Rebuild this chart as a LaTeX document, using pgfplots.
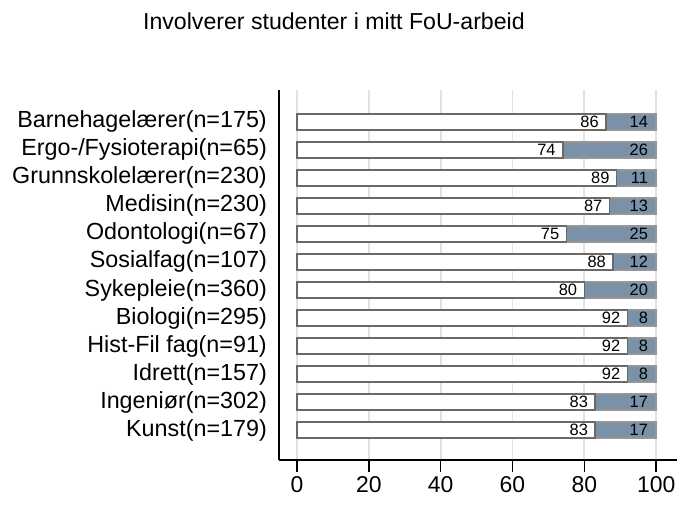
\documentclass[border=0pt]{standalone}
\usepackage{fontspec}
\setmainfont{Liberation Sans}
\usepackage{pgfplots}
\pgfplotsset{compat=1.18}
\definecolor{barblue}{RGB}{122,145,168}
\definecolor{edgegray}{RGB}{105,105,105}
\definecolor{edgelight}{RGB}{150,150,150}
\definecolor{gridgray}{RGB}{225,225,225}
\pgfplotsset{
  commonframe/.style={
    at={(279bp,45bp)}, anchor=south west,
    scale only axis, width=398bp, height=370bp,
    xmin=-5, xmax=105.8, ymin=-0.07, ymax=13.14,
  }
}
\begin{document}
\begin{tikzpicture}[x=1bp,y=1bp]
\path[use as bounding box] (0,0) rectangle (678,505);
\begin{axis}[
  commonframe,
  xbar stacked, bar width=16bp,
  axis x line*=bottom, axis y line*=left,
  axis line style={-, line width=1.5bp, black},
  xtick={0,20,40,60,80,100},
  ytick={1,2,3,4,5,6,7,8,9,10,11,12},
  yticklabels={Kunst(n=179),Ingeniør(n=302),Idrett(n=157),Hist-Fil fag(n=91),Biologi(n=295),Sykepleie(n=360),Sosialfag(n=107),Odontologi(n=67),Medisin(n=230),Grunnskolelærer(n=230),Ergo-/Fysioterapi(n=65),Barnehagelærer(n=175)},
  tick align=outside,
  major tick length=12bp,
  x tick style={black, line width=1.5bp},
  y tick style={draw=none},
  xmajorgrids,
  grid style={gridgray, line width=1.8bp},
  tick label style={font=\fontsize{23.4}{25}\selectfont},
  xticklabel style={inner sep=0pt, yshift=-4bp, font=\fontsize{23}{25}\selectfont},
  yticklabel style={anchor=east, inner sep=0pt},
  /pgf/number format/assume math mode=true,
  title={Involverer studenter i mitt FoU-arbeid},
  title style={at={(0.138,1.170)}, anchor=center, font=\fontsize{23.2}{25}\selectfont},
  clip=false,
]
\addplot[fill=white, draw=edgegray, line width=1.5bp] coordinates {
  (83,1) (83,2) (92,3) (92,4) (92,5) (80,6)
  (88,7) (75,8) (87,9) (89,10) (74,11) (86,12)
};
\addplot[fill=barblue, draw=edgelight, line width=1.5bp] coordinates {
  (17,1) (17,2) (8,3) (8,4) (8,5) (20,6)
  (12,7) (25,8) (13,9) (11,10) (26,11) (14,12)
};
\end{axis}
\begin{axis}[
  commonframe,
  hide axis,
  clip=false,
  point meta=explicit symbolic,
  nodes near coords,
  nodes near coords align={center},
  every node near coord/.style={anchor=east, inner sep=0pt, font=\fontsize{16.5}{18}\selectfont, text=black},
]
\addplot[only marks, mark=none, every node near coord/.append style={xshift=-7bp}] coordinates {
  (83,1) [83] (83,2) [83] (92,3) [92] (92,4) [92] (92,5) [92] (80,6) [80]
  (88,7) [88] (75,8) [75] (87,9) [87] (89,10) [89] (74,11) [74] (86,12) [86]
};
\addplot[only marks, mark=none, every node near coord/.append style={xshift=-8bp}] coordinates {
  (100,1) [17] (100,2) [17] (100,3) [8] (100,4) [8] (100,5) [8] (100,6) [20]
  (100,7) [12] (100,8) [25] (100,9) [13] (100,10) [11] (100,11) [26] (100,12) [14]
};
\end{axis}
\end{tikzpicture}
\end{document}
